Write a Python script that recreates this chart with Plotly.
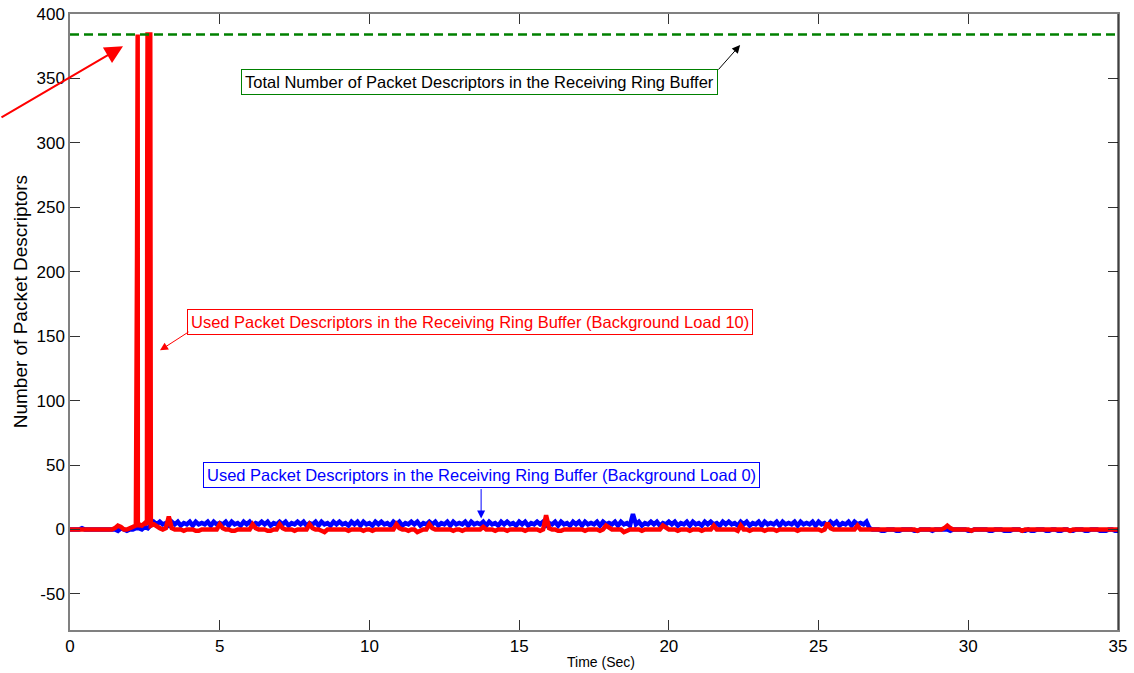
import plotly.graph_objects as go

# ---- data ----
t_step = 0.1
n_pts = 351  # 0.0 .. 35.0 s

blue_load0 = [
    0, 0, 0, 0, 1, 0, 0, 0, 0, 0,
    0, 0, 0, 0, 0, 0, -1, 1, 0, -1,
    0, 0, 1, 1, 0, 2, 1, 3, 6, 4,
    6, 4, 5, 3, 6, 4, 6, 3, 5, 4,
    6, 3, 6, 4, 5, 4, 6, 3, 6, 4,
    5, 4, 6, 3, 6, 4, 5, 3, 6, 4,
    6, 3, 5, 4, 6, 4, 6, 3, 5, 4,
    6, 4, 6, 3, 5, 4, 6, 4, 6, 3,
    5, 4, 6, 3, 6, 4, 5, 3, 6, 4,
    6, 4, 5, 3, 6, 4, 6, 3, 6, 4,
    5, 3, 6, 4, 6, 4, 5, 3, 6, 4,
    6, 3, 5, 4, 6, 4, 6, 3, 5, 4,
    6, 4, 6, 3, 5, 4, 6, 3, 6, 4,
    5, 4, 6, 3, 6, 4, 5, 4, 6, 3,
    6, 4, 5, 3, 6, 4, 6, 4, 5, 3,
    6, 4, 6, 3, 5, 4, 6, 4, 6, 3,
    5, 4, 6, 3, 6, 4, 5, 3, 6, 4,
    6, 3, 6, 4, 5, 4, 6, 3, 6, 4,
    5, 4, 6, 3, 6, 4, 5, 3, 12, 4,
    6, 3, 5, 4, 6, 4, 6, 3, 5, 4,
    6, 4, 6, 3, 5, 4, 6, 3, 6, 4,
    5, 3, 6, 4, 6, 4, 5, 3, 6, 4,
    6, 4, 5, 3, 6, 4, 6, 3, 5, 4,
    6, 3, 6, 4, 5, 4, 6, 3, 6, 4,
    5, 4, 6, 3, 6, 4, 5, 4, 6, 3,
    6, 4, 5, 3, 6, 4, 6, 3, 5, 4,
    6, 3, 6, 4, 5, 4, 6, 1, 0, 0,
    0, -1, -1, 0, 0, 0, -1, -1, 0, 0,
    0, 0, -1, -1, 0, 0, 0, 0, -1, 0,
    0, 0, 0, 0, -1, 0, 0, 0, 0, 0,
    -1, -1, 0, 0, 0, 0, 0, -1, -1, 0,
    0, 0, -1, -1, -1, 0, 0, 0, -1, -1,
    0, -1, -1, 0, 0, 0, -1, -1, 0, 0,
    -1, -1, 0, 0, -1, -1, 0, 0, 0, -1,
    -1, 0, 0, 0, -1, -1, -1, 0, 0, -1,
    -1,
]

red_load10 = [
    0, 0, 0, 0, 0, 0, 0, 0, 0, 0,
    0, 0, 0, 0, 0, 1, 3, 2, 0, 0,
    1, 2, 3, 4, 3, 5, 4, 4, 3, 2,
    1, 0, 1, 10, 1, 0, 0, 0, -1, 0,
    0, 0, -1, -1, 0, 0, 0, 0, 0, 0,
    4, 1, 0, 0, -1, -1, 0, 0, 0, 0,
    0, 4, 1, 0, 0, 0, -1, -1, 0, 0,
    4, 1, 0, 0, 0, -1, 0, 0, 0, 0,
    4, 1, 0, 0, -1, -2, 0, 0, 0, 0,
    0, 0, 0, -1, 0, 0, 0, 0, -1, 0,
    0, -1, 0, 0, 0, 0, 0, 0, 0, 4,
    1, 0, 0, -1, 0, 0, -2, -1, 0, 0,
    4, 1, 0, 0, 0, 0, 0, 0, -1, 0,
    0, -1, 0, 0, 0, 0, 0, 0, 2, 0,
    0, 0, -1, 0, 0, 0, -1, 0, 0, 0,
    0, 0, -1, 0, 0, 0, 0, -1, 0, 11,
    1, 0, 0, -1, -1, 0, 0, 0, 0, 0,
    0, 0, -1, 0, 0, 0, 0, -1, 0, 3,
    1, 0, 0, 0, 0, -2, -1, 0, 0, 0,
    0, -1, 0, 0, 0, 0, 0, 0, 3, 1,
    0, 0, 0, -1, 0, 0, 0, -1, 0, 0,
    0, -1, 0, 0, 0, 3, 0, 0, 0, 0,
    0, 0, 0, -1, 3, 0, 0, -1, 0, 0,
    0, 0, -1, 0, 0, 0, -1, 0, 0, 0,
    0, 0, 0, -1, 0, 0, 0, 0, 0, 0,
    0, -1, 0, 5, 1, 0, 0, 0, 0, 0,
    0, 0, 0, 3, 0, 0, 0, 0, 0, 0,
    0, 0, 0, 0, 0, 0, 0, 0, 0, 0,
    0, 0, 0, -1, 0, 0, 0, 0, 0, 0,
    0, 0, 1, 3, 1, 0, 0, 0, 0, 0,
    0, -1, 0, 0, 0, 0, 0, 0, 0, 0,
    0, 0, 0, 0, 0, 0, 0, 0, -1, 0,
    0, 0, 0, 0, 0, 0, 0, 0, 0, 0,
    0, 0, 0, 0, -1, 0, 0, 0, 0, 0,
    0, 0, 0, 0, 0, 0, 0, 0, 0, 0,
    0,
]

# burst of the loaded run (replaces the coarse samples between 2.15 s and 2.85 s)
burst_t = [2.20, 2.24, 2.245, 2.26, 2.265, 2.30, 2.40, 2.50, 2.57, 2.58, 2.59, 2.68, 2.69, 2.695, 2.70, 2.80]
burst_v = [3, 218, 384, 384, 2, 4, 3, 5, 4, 292, 384, 384, 193, 77, 3, 4]
burst_window = (2.15, 2.85)

ring_size = 384
x_range = [0, 35]
y_range = [-78, 400]
x_ticks = [0, 5, 10, 15, 20, 25, 30, 35]
y_ticks = [-50, 0, 50, 100, 150, 200, 250, 300, 350, 400]
y_tick_labels = ["-50", "0", "50", "100", "150", "200", "250", "300", "350", "400"]
x_title = "Time (Sec)"
y_title = "Number of Packet Descriptors"

# ---- build series ----
t_grid = [round(i * t_step, 3) for i in range(n_pts)]
red_pairs = [(t, v) for t, v in zip(t_grid, red_load10)
             if not (burst_window[0] < t < burst_window[1])]
red_pairs += list(zip(burst_t, burst_v))
red_pairs.sort()
t_red = [p[0] for p in red_pairs]
v_red = [p[1] for p in red_pairs]

FONT = "Liberation Sans, Arial, sans-serif"

fig = go.Figure()
fig.add_trace(go.Scatter(x=t_grid, y=blue_load0, mode="lines",
                         line=dict(color="#0000ff", width=4.5), showlegend=False))
fig.add_trace(go.Scatter(x=t_red, y=v_red, mode="lines",
                         line=dict(color="#ff0000", width=4.5), showlegend=False))
fig.add_trace(go.Scatter(x=x_range, y=[ring_size, ring_size], mode="lines",
                         line=dict(color="#008000", width=2.5, dash="9px,5px"),
                         showlegend=False))

ann = []
# axis titles (placed as in the reference)
ann.append(dict(x=0.5067, y=-0.052, xref="paper", yref="paper", showarrow=False,
                text=x_title, font=dict(family=FONT, size=14, color="black"),
                xanchor="center", yanchor="middle"))
ann.append(dict(x=-0.0477, y=0.532, xref="paper", yref="paper", showarrow=False,
                text=y_title, textangle=-90, font=dict(family=FONT, size=19, color="black"),
                xanchor="center", yanchor="middle"))
# text boxes
ann.append(dict(x=13.68, y=347.2, xref="x", yref="y", showarrow=False,
                text="Total Number of Packet Descriptors in the Receiving Ring Buffer",
                font=dict(family=FONT, size=16.5, color="black"),
                bgcolor="white", bordercolor="#008000", borderwidth=1, borderpad=3))
ann.append(dict(x=13.36, y=161.1, xref="x", yref="y", showarrow=False,
                text="Used Packet Descriptors in the Receiving Ring Buffer (Background Load 10)",
                font=dict(family=FONT, size=16.5, color="#ff0000"),
                bgcolor="white", bordercolor="#ff0000", borderwidth=1, borderpad=3))
ann.append(dict(x=13.73, y=42.3, xref="x", yref="y", showarrow=False,
                text="Used Packet Descriptors in the Receiving Ring Buffer (Background Load 0)",
                font=dict(family=FONT, size=16.5, color="#0000ff"),
                bgcolor="white", bordercolor="#0000ff", borderwidth=1, borderpad=3))
# arrows
ann.append(dict(x=22.38, y=375.9, xref="x", yref="y", ax=21.61, ay=355.7,
                axref="x", ayref="y", text="", showarrow=True,
                arrowhead=2, arrowsize=1.6, arrowwidth=1, arrowcolor="black"))
ann.append(dict(x=3.006, y=139, xref="x", yref="y", ax=4.008, ay=154,
                axref="x", ayref="y", text="", showarrow=True,
                arrowhead=2, arrowsize=1.6, arrowwidth=1, arrowcolor="#ff0000"))
ann.append(dict(x=13.73, y=8.5, xref="x", yref="y", ax=13.73, ay=32.5,
                axref="x", ayref="y", text="", showarrow=True,
                arrowhead=2, arrowsize=1.6, arrowwidth=1, arrowcolor="#0000ff"))
ann.append(dict(x=1.77, y=375, xref="x", yref="y", ax=-123, ay=72,
                text="", showarrow=True,
                arrowhead=2, arrowsize=1.8, arrowwidth=2, arrowcolor="#ff0000"))

fig.update_layout(
    width=1134, height=673,
    margin=dict(l=70, r=16, t=14, b=43, autoexpand=False),
    paper_bgcolor="white", plot_bgcolor="white",
    font=dict(family=FONT, size=17, color="black"),
    annotations=ann,
    shapes=[dict(type="line", xref="paper", yref="paper", x0=1, x1=1, y0=0, y1=1,
                 line=dict(color="black", width=1))],
)
fig.update_xaxes(range=x_range, tickvals=x_ticks, ticks="inside", ticklen=10,
                 tickcolor="#333333", showline=True, linecolor="#808080", linewidth=1.5,
                 mirror="ticks", showgrid=False, zeroline=False, automargin=False,
                 ticklabeloverflow="allow", tickfont=dict(size=17))
fig.update_yaxes(range=y_range, tickvals=y_ticks, ticktext=y_tick_labels,
                 ticks="inside", ticklen=10,
                 tickcolor="#333333", showline=True, linecolor="#808080", linewidth=1.5,
                 mirror="ticks", showgrid=False, zeroline=False, automargin=False,
                 ticklabeloverflow="allow", tickfont=dict(size=17))

# remove the default 8 px page margin so the figure fills the window exactly
fig.write_html("out.html", config={"displayModeBar": False},
               post_script="document.body.style.margin='0';")
